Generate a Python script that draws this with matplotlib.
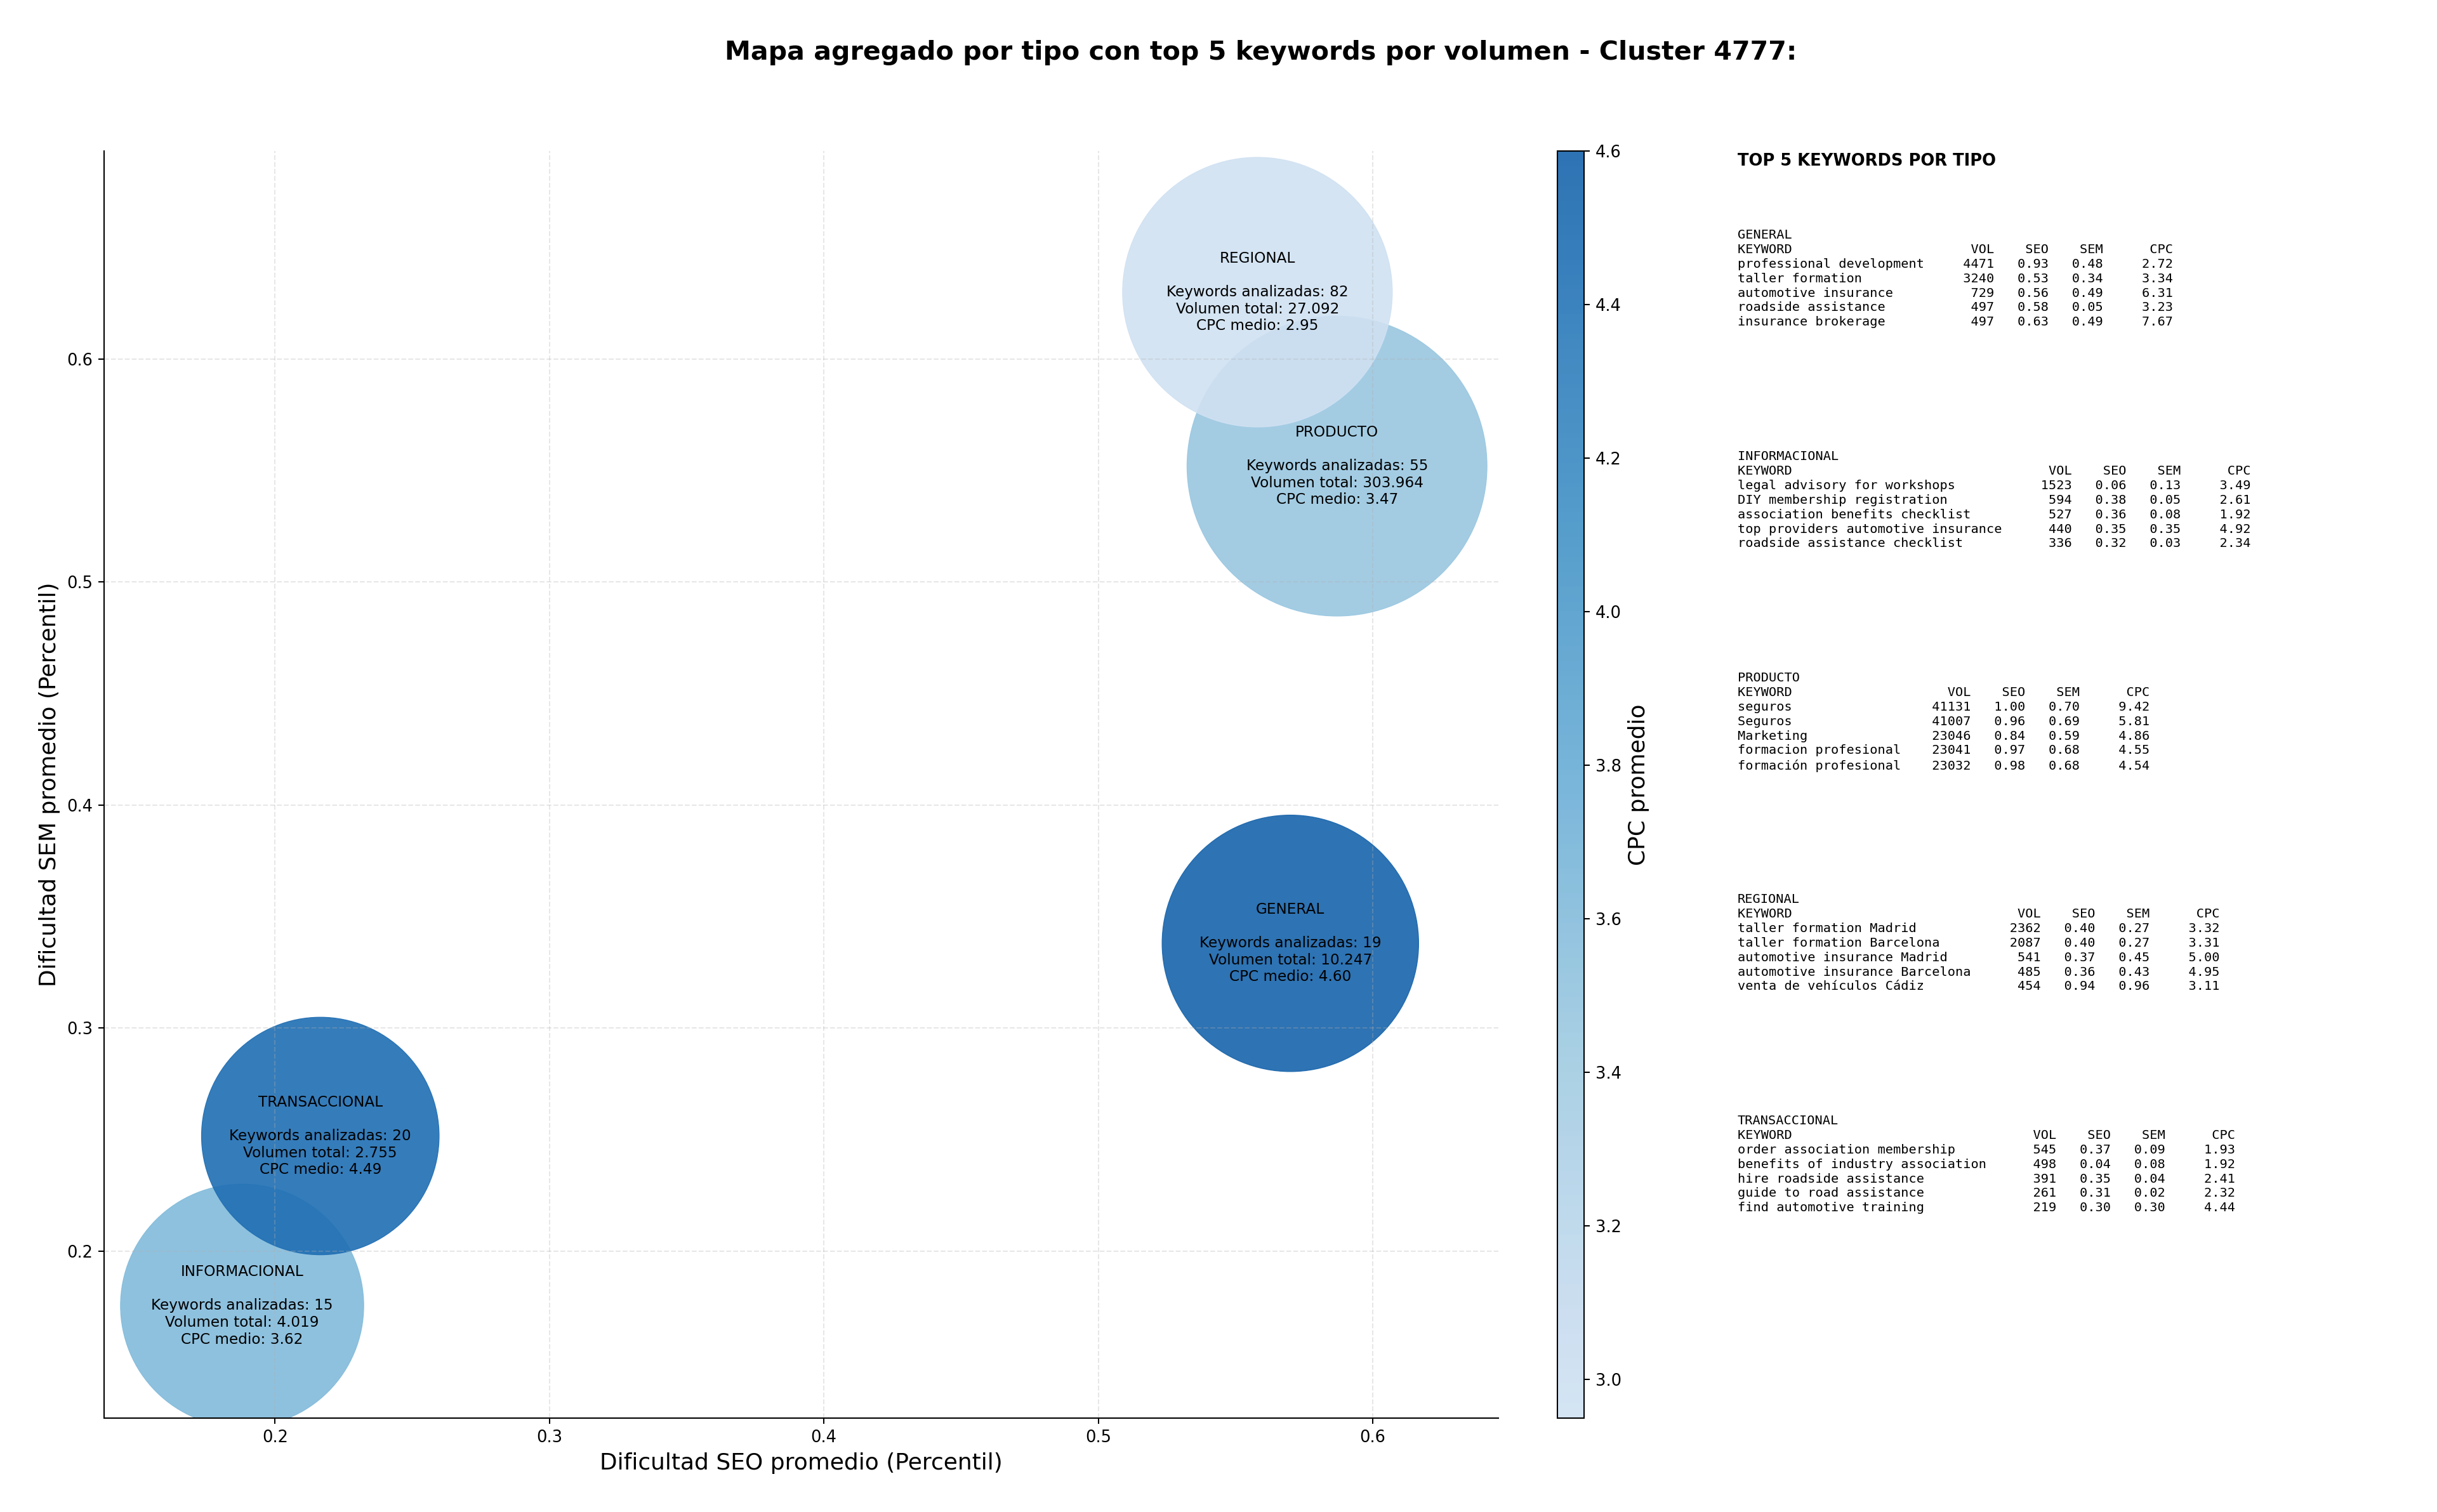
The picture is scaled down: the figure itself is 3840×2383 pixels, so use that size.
import numpy as np
import matplotlib.pyplot as plt
from matplotlib.colors import LinearSegmentedColormap, Normalize

# === datos agregados por tipo ===
tipos = ["GENERAL", "INFORMACIONAL", "PRODUCTO", "REGIONAL", "TRANSACCIONAL"]
seo_medio = [0.570, 0.188, 0.587, 0.558, 0.2165]
sem_medio = [0.338, 0.1755, 0.552, 0.630, 0.2516]
n_keywords = [19, 15, 55, 82, 20]
volumen_total = [10247, 4019, 303964, 27092, 2755]
cpc_medio = [4.60, 3.62, 3.47, 2.95, 4.49]

# === top 5 keywords por tipo (mismo orden que tipos) ===
top_kw = [
    ["professional development", "taller formation", "automotive insurance",
     "roadside assistance", "insurance brokerage"],
    ["legal advisory for workshops", "DIY membership registration",
     "association benefits checklist", "top providers automotive insurance",
     "roadside assistance checklist"],
    ["seguros", "Seguros", "Marketing", "formacion profesional", "formación profesional"],
    ["taller formation Madrid", "taller formation Barcelona", "automotive insurance Madrid",
     "automotive insurance Barcelona", "venta de vehículos Cádiz"],
    ["order association membership", "benefits of industry association",
     "hire roadside assistance", "guide to road assistance", "find automotive training"],
]
top_vol = [
    [4471, 3240, 729, 497, 497],
    [1523, 594, 527, 440, 336],
    [41131, 41007, 23046, 23041, 23032],
    [2362, 2087, 541, 485, 454],
    [545, 498, 391, 261, 219],
]
top_seo = [
    [0.93, 0.53, 0.56, 0.58, 0.63],
    [0.06, 0.38, 0.36, 0.35, 0.32],
    [1.00, 0.96, 0.84, 0.97, 0.98],
    [0.40, 0.40, 0.37, 0.36, 0.94],
    [0.37, 0.04, 0.35, 0.31, 0.30],
]
top_sem = [
    [0.48, 0.34, 0.49, 0.05, 0.49],
    [0.13, 0.05, 0.08, 0.35, 0.03],
    [0.70, 0.69, 0.59, 0.68, 0.68],
    [0.27, 0.27, 0.45, 0.43, 0.96],
    [0.09, 0.08, 0.04, 0.02, 0.30],
]
top_cpc = [
    [2.72, 3.34, 6.31, 3.23, 7.67],
    [3.49, 2.61, 1.92, 4.92, 2.34],
    [9.42, 5.81, 4.86, 4.55, 4.54],
    [3.32, 3.31, 5.00, 4.95, 3.11],
    [1.93, 1.92, 2.41, 2.32, 4.44],
]

W, H = 3840, 2383
DPI = 185
fig = plt.figure(figsize=(W / DPI, H / DPI), dpi=DPI)

ax = fig.add_axes([164 / W, 1 - 2235 / H, (2361 - 164) / W, (2235 - 238) / H])
cax = fig.add_axes([2454 / W, 1 - 2235 / H, 42 / W, (2235 - 238) / H])

cmap = LinearSegmentedColormap.from_list("blues_cut", plt.cm.Blues(np.linspace(0.2, 0.8, 256)))
norm = Normalize(vmin=min(cpc_medio), vmax=max(cpc_medio))

# tamaño de burbuja en escala logarítmica del volumen
sizes = 2680 * np.log(np.array(volumen_total))

sc = ax.scatter(seo_medio, sem_medio, s=sizes, c=cpc_medio, cmap=cmap, norm=norm,
                alpha=0.9, edgecolors="face", linewidths=0.5)

for i, tipo in enumerate(tipos):
    vol_txt = f"{volumen_total[i]:,}".replace(",", ".")
    label = (f"{tipo}\n\nKeywords analizadas: {n_keywords[i]}\n"
             f"Volumen total: {vol_txt}\nCPC medio: {cpc_medio[i]:.2f}")
    ax.text(seo_medio[i], sem_medio[i], label, ha="center", va="center", fontsize=9)

ax.set_xlim(0.1377, 0.6458)
ax.set_ylim(0.1251, 0.6933)
ax.set_xticks([0.2, 0.3, 0.4, 0.5, 0.6])
ax.set_yticks([0.2, 0.3, 0.4, 0.5, 0.6])
ax.set_xlabel("Dificultad SEO promedio (Percentil)", fontsize=14)
ax.set_ylabel("Dificultad SEM promedio (Percentil)", fontsize=14)
ax.grid(True, linestyle="--", alpha=0.3)
ax.spines["top"].set_visible(False)
ax.spines["right"].set_visible(False)

cbar = fig.colorbar(sc, cax=cax)
cbar.set_label("CPC promedio", fontsize=14)

fig.text(1987 / W, 1 - 83 / H, "Mapa agregado por tipo con top 5 keywords por volumen - Cluster 4777:",
         ha="center", va="center", fontsize=16, fontweight="bold")

# === panel de texto con top keywords ===
x_txt = 2738 / W
fig.text(x_txt, 1 - 241 / H, "TOP 5 KEYWORDS POR TIPO", ha="left", va="top",
         fontsize=10, fontweight="bold")

for i, tipo in enumerate(tipos):
    w = max(len(k) for k in top_kw[i])
    lines = [tipo, f"{'KEYWORD':<{w}}{'VOL':>9}{'SEO':>7}{'SEM':>7}{'CPC':>9}"]
    for kw, vol, seo, sem, cpc in zip(top_kw[i], top_vol[i], top_seo[i], top_sem[i], top_cpc[i]):
        lines.append(f"{kw:<{w}}{vol:>9}{seo:>7.2f}{sem:>7.2f}{cpc:>9.2f}")
    y_top = 1 - (361 + i * 349) / H
    fig.text(x_txt, y_top, "\n".join(lines), ha="left", va="top",
             fontsize=7.9, family="monospace", linespacing=1.26)

fig.savefig("out.png", dpi=DPI)
